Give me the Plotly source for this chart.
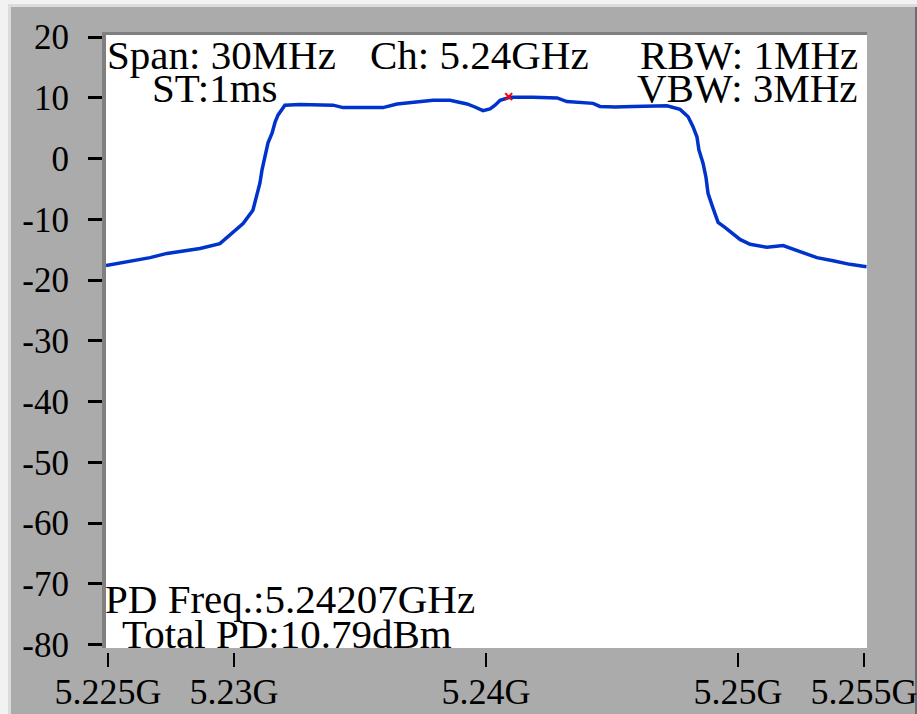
import plotly.graph_objects as go

# ---- data ----
freq_ghz = [5.22492, 5.22548, 5.22599, 5.22667, 5.22734, 5.22806, 5.22865, 5.22944,
            5.22996, 5.23036, 5.23075, 5.23091, 5.23103, 5.23111, 5.23127, 5.23135,
            5.23151, 5.23163, 5.23175, 5.23190, 5.23202, 5.23262, 5.23341, 5.23393,
            5.23433, 5.23500, 5.23591, 5.23647, 5.23698, 5.23790, 5.23857, 5.23925,
            5.23956, 5.23988, 5.24016, 5.24036, 5.24056, 5.24095, 5.24187, 5.24282,
            5.24321, 5.24373, 5.24425, 5.24452, 5.24512, 5.24583, 5.24651, 5.24718,
            5.24770, 5.24802, 5.24821, 5.24837, 5.24845, 5.24861, 5.24873, 5.24881,
            5.24897, 5.24909, 5.24921, 5.24948, 5.24980, 5.25008, 5.25048, 5.25115,
            5.25179, 5.25246, 5.25313, 5.25377, 5.25444, 5.25510]
power_dbm = [-17.6, -17.2, -16.8, -16.3, -15.6, -15.2, -14.8, -14.0,
             -12.1, -10.7, -8.5, -6.0, -4.0, -1.9, 0.9, 2.6,
             4.2, 6.0, 7.2, 8.0, 8.8, 8.9, 8.8, 8.8,
             8.4, 8.4, 8.4, 9.0, 9.2, 9.6, 9.6, 9.0,
             8.5, 7.9, 8.2, 8.8, 9.6, 10.1, 10.1, 10.0,
             9.4, 9.2, 9.1, 8.6, 8.5, 8.6, 8.6, 8.7,
             8.1, 6.9, 5.3, 3.6, 1.4, -0.7, -3.1, -5.7,
             -7.7, -9.0, -10.5, -11.3, -12.3, -13.3, -14.1, -14.6,
             -14.3, -15.3, -16.3, -16.8, -17.4, -17.8]

marker_freq = [5.2409]
marker_dbm = [10.2]

x_tick_vals = [5.225, 5.23, 5.24, 5.25, 5.255]
x_tick_text = ["5.225G", "5.23G", "5.24G", "5.25G", "5.255G"]
y_tick_vals = [-80, -70, -60, -50, -40, -30, -20, -10, 0, 10, 20]
y_tick_text = ["-80", "-70", "-60", "-50", "-40", "-30", "-20", "-10", "0", "10", "20"]

info_lines = ["Span: 30MHz", "Ch: 5.24GHz", "RBW: 1MHz", "ST:1ms", "VBW: 3MHz",
              "PD Freq.:5.24207GHz", "Total PD:10.79dBm"]

# ---- layout geometry (pixels) ----
W, H = 917, 714
L, R, T, B = 106, 50, 35, 66
PW, PH = W - L - R, H - T - B


def px(p):
    return (p - L) / PW


def py(p):
    return (H - B - p) / PH


FONT = "Liberation Serif"
BG = "#ABABAB"

fig = go.Figure()
fig.add_trace(go.Scatter(x=freq_ghz, y=power_dbm, mode="lines",
                         line=dict(color="#0033CC", width=3.5), hoverinfo="skip"))
fig.add_trace(go.Scatter(x=marker_freq, y=marker_dbm, mode="markers",
                         marker=dict(symbol="x-thin", size=7, color="#FF0000",
                                     line=dict(color="#FF0000", width=2)),
                         hoverinfo="skip"))

shapes = [
    # outer window frame
    dict(type="rect", xref="paper", yref="paper", x0=px(0), x1=px(8), y0=py(H), y1=py(0),
         fillcolor="#F2F2F2", line_width=0, layer="below"),
    dict(type="rect", xref="paper", yref="paper", x0=px(8), x1=px(11), y0=py(H), y1=py(4),
         fillcolor="#DCDCDC", line_width=0, layer="below"),
    dict(type="rect", xref="paper", yref="paper", x0=px(0), x1=px(W), y0=py(4), y1=py(0),
         fillcolor="#F2F2F2", line_width=0, layer="below"),
    dict(type="rect", xref="paper", yref="paper", x0=px(8), x1=px(W), y0=py(7), y1=py(4),
         fillcolor="#DCDCDC", line_width=0, layer="below"),
    dict(type="rect", xref="paper", yref="paper", x0=px(915), x1=px(W), y0=py(H), y1=py(7),
         fillcolor="#6E6E6E", line_width=0, layer="below"),
    # sunken border on top of plot area
    dict(type="rect", xref="paper", yref="paper", x0=px(102), x1=px(W - R), y0=py(T), y1=py(T - 3),
         fillcolor="#808080", line_width=0, layer="above"),
]

annots = []
def txt(s, x, y, anchor):
    annots.append(dict(text=s, xref="paper", yref="paper", x=px(x), y=py(y),
                       xanchor=anchor, yanchor="middle", showarrow=False,
                       font=dict(family=FONT, size=41, color="black")))

txt(info_lines[0], 105, 55, "left")
txt(info_lines[1], 368, 55, "left")
txt(info_lines[2], 860, 55, "right")
txt(info_lines[3], 150, 88, "left")
txt(info_lines[4], 860, 88, "right")
txt(info_lines[5], 103, 599, "left")
txt(info_lines[6], 120, 634, "left")

fig.update_layout(
    width=W, height=H,
    margin=dict(l=L, r=R, t=T, b=B, pad=0, autoexpand=False),
    paper_bgcolor=BG, plot_bgcolor="white",
    showlegend=False,
    shapes=shapes, annotations=annots,
    xaxis=dict(range=[5.2249206, 5.2551190], tickvals=x_tick_vals, ticktext=x_tick_text,
               showgrid=False, zeroline=False, showline=True, linecolor=BG, linewidth=5,
               ticks="outside", ticklen=14, tickwidth=2, tickcolor="black",
               tickfont=dict(family=FONT, size=36, color="black"), ticklabelstandoff=-6,
               ticklabeloverflow="allow", automargin=False, fixedrange=True),
    yaxis=dict(range=[-80.55, 20.35], tickvals=y_tick_vals, ticktext=y_tick_text,
               showgrid=False, zeroline=False, showline=True, linecolor="#808080", linewidth=4,
               ticks="outside", ticklen=14, tickwidth=2.5, tickcolor="black",
               tickfont=dict(family=FONT, size=35, color="black"), ticklabelstandoff=12,
               ticklabeloverflow="allow", automargin=False, fixedrange=True),
)

fig.write_html("out.html", config={"displayModeBar": False},
               post_script="document.body.style.margin='0';document.body.style.overflow='hidden';")
